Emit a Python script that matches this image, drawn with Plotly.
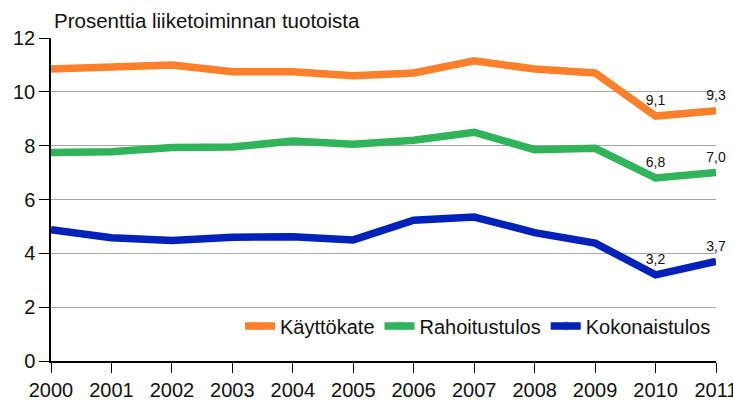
import plotly.graph_objects as go

years = list(range(2000, 2012))
kayttokate = [10.85, 10.9, 11.0, 10.75, 10.75, 10.6, 10.7, 11.15, 10.85, 10.7, 9.1, 9.3]
rahoitustulos = [7.75, 7.77, 7.93, 7.95, 8.17, 8.05, 8.2, 8.5, 7.85, 7.9, 6.8, 7.0]
kokonaistulos = [4.88, 4.58, 4.48, 4.6, 4.62, 4.5, 5.23, 5.35, 4.77, 4.38, 3.2, 3.7]

series_names = ["Käyttökate", "Rahoitustulos", "Kokonaistulos"]
colors = ["#FF7F2A", "#2FB45A", "#0022BB"]
y_ticks = [0, 2, 4, 6, 8, 10, 12]
title_text = "Prosenttia liiketoiminnan tuotoista"

FONT = "Liberation Sans, Arial, sans-serif"


def labels(vals):
    n = len(vals)
    return [f"{v:.1f}".replace(".", ",") if i >= n - 2 else "" for i, v in enumerate(vals)]


fig = go.Figure()
for name, vals, col in zip(series_names, [kayttokate, rahoitustulos, kokonaistulos], colors):
    fig.add_trace(go.Scatter(
        x=years, y=vals, name=name, mode="lines+markers+text",
        line=dict(color=col, width=7.5),
        marker=dict(size=10, opacity=0, color=col),
        text=labels(vals), textposition="top center",
        textfont=dict(family=FONT, size=14, color="#111111"),
        cliponaxis=False,
    ))

fig.update_layout(
    width=733, height=400,
    margin=dict(l=51, r=17, t=38, b=39, autoexpand=False),
    paper_bgcolor="white", plot_bgcolor="white",
    font=dict(family=FONT, size=20, color="#111111"),
    showlegend=True,
    legend=dict(orientation="h", x=1.0, xanchor="right", y=0.108, yanchor="middle",
                bgcolor="rgba(0,0,0,0)", font=dict(family=FONT, size=20, color="#111111"),
                itemwidth=30, tracegroupgap=0),
    annotations=[dict(text=title_text, xref="paper", yref="paper", x=0, y=1.0,
                      xanchor="left", yanchor="bottom", yshift=4, xshift=1, showarrow=False,
                      font=dict(family=FONT, size=20.5, color="#111111"))],
)
fig.update_xaxes(range=[2000, 2011], tickmode="array", tickvals=years,
                 ticktext=[str(y) for y in years], automargin=False,
                 ticklabeloverflow="allow",
                 showline=True, linecolor="black", linewidth=1.5,
                 ticks="outside", ticklen=10, tickcolor="black", showgrid=False,
                 zeroline=False, tickfont=dict(family=FONT, size=20, color="#111111"))
fig.update_yaxes(range=[0, 12], tickmode="array", tickvals=y_ticks, automargin=False,
                 ticklabeloverflow="allow",
                 showline=True, linecolor="black", linewidth=1.5,
                 ticks="outside", ticklen=10, tickcolor="black",
                 showgrid=True, gridcolor="#A6A6A6", gridwidth=1.2, zeroline=False,
                 tickfont=dict(family=FONT, size=20, color="#111111"))

fig.write_html("out.html", config={"displayModeBar": False},
               post_script="document.body.style.margin='0';")
